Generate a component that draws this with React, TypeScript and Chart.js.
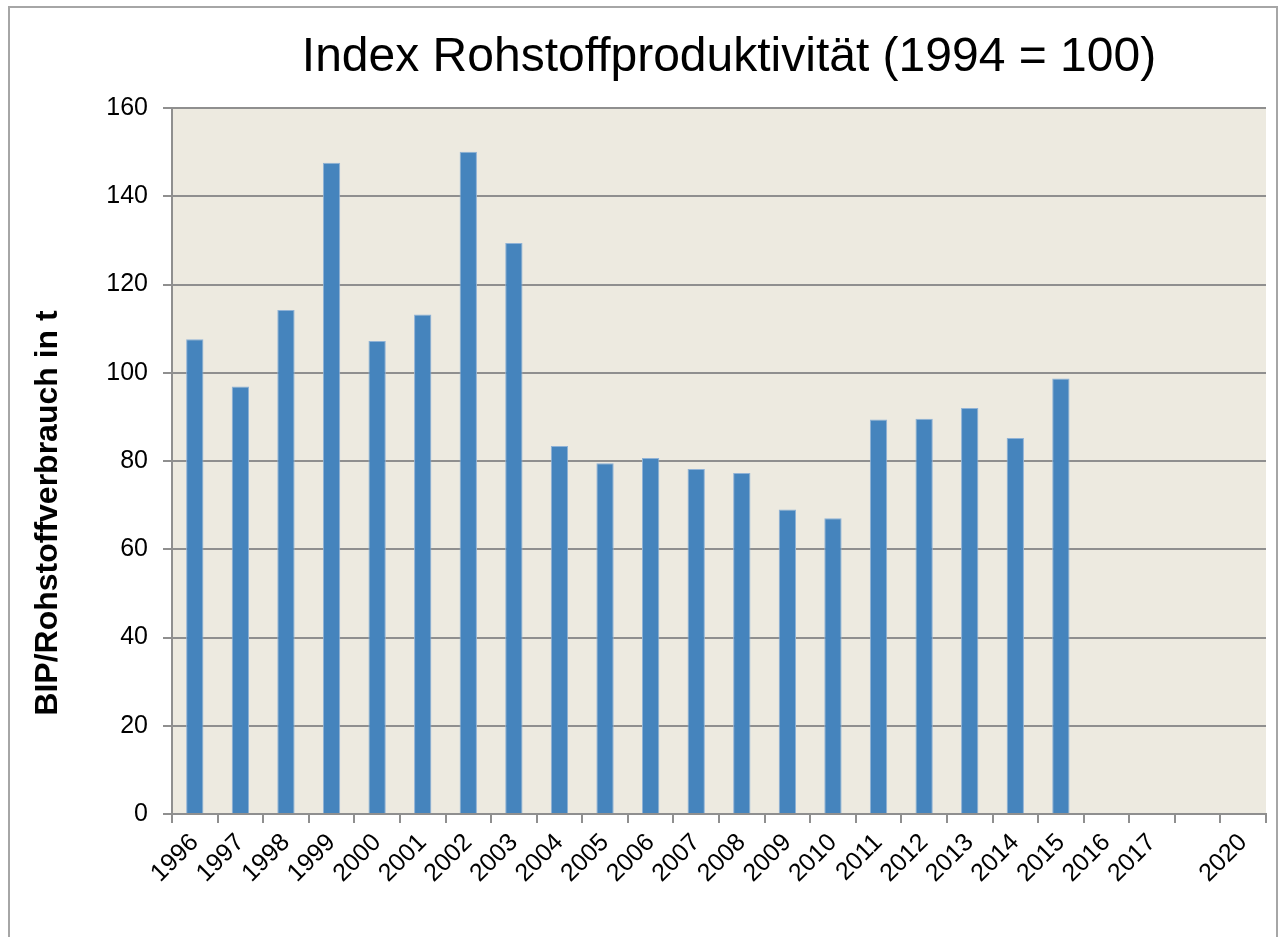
import React, { useEffect, useRef } from "react";
import { Chart, registerables } from "chart.js";

Chart.register(...registerables);

const categories = [
  "1996", "1997", "1998", "1999", "2000", "2001", "2002", "2003", "2004", "2005",
  "2006", "2007", "2008", "2009", "2010", "2011", "2012", "2013", "2014", "2015",
  "2016", "2017", "", "2020",
];
const productivity = [
  107.6, 96.9, 114.2, 147.6, 107.2, 113.2, 150.1, 129.4, 83.4, 79.5,
  80.7, 78.2, 77.3, 69.0, 67.0, 89.4, 89.6, 92.0, 85.2, 98.7,
  null, null, null, null,
];
const yTicks = [0, 20, 40, 60, 80, 100, 120, 140, 160];
const chartTitle = "Index Rohstoffproduktivität (1994 = 100)";
const yAxisTitle = "BIP/Rohstoffverbrauch in t";

const FONT = "'Liberation Sans', Arial, sans-serif";
const GRID = "#8f8f8f";

const decorPlugin = {
  id: "decor",
  beforeDraw(chart: any) {
    const { ctx, chartArea } = chart;
    ctx.save();
    ctx.fillStyle = "#edeae0";
    ctx.fillRect(chartArea.left, chartArea.top, chartArea.right - chartArea.left, chartArea.bottom - chartArea.top);
    ctx.restore();
  },
  afterDraw(chart: any) {
    const { ctx } = chart;
    ctx.save();
    ctx.fillStyle = "#000";
    ctx.font = `48px ${FONT}`;
    ctx.textAlign = "center";
    ctx.textBaseline = "alphabetic";
    ctx.fillText(chartTitle, 719, 63);
    ctx.translate(47, 505);
    ctx.rotate(-Math.PI / 2);
    ctx.font = `bold 32px ${FONT}`;
    ctx.fillText(yAxisTitle, 0, 0);
    ctx.restore();
  },
};

export default function App() {
  const ref = useRef<HTMLCanvasElement | null>(null);
  useEffect(() => {
    if (!ref.current) return;
    const chart = new Chart(ref.current, {
      type: "bar",
      data: {
        labels: categories,
        datasets: [
          {
            data: productivity as any,
            backgroundColor: "#4584bd",
            borderColor: "#8fb2d6",
            borderWidth: 1,
            barPercentage: 0.38,
            categoryPercentage: 1,
          },
        ],
      },
      options: {
        animation: false,
        responsive: false,
        devicePixelRatio: 1,
        layout: { padding: { left: 0, right: 10, top: 100, bottom: 0 } },
        plugins: {
          legend: { display: false },
          title: { display: false },
          tooltip: { enabled: false },
        },
        scales: {
          x: {
            offset: true,
            afterFit: (s: any) => { s.height = 126; },
            grid: {
              offset: true,
              drawOnChartArea: false,
              drawTicks: true,
              tickLength: 9,
              color: GRID,
              lineWidth: 2,
            },
            border: { display: true, color: GRID, width: 2 },
            ticks: {
              autoSkip: false,
              maxRotation: 45,
              minRotation: 45,
              padding: 5,
              color: "#000",
              font: { family: FONT, size: 25 },
            },
          },
          y: {
            min: 0,
            max: 160,
            afterFit: (s: any) => { s.width = 162; },
            afterBuildTicks: (s: any) => { s.ticks = yTicks.map((v) => ({ value: v })); },
            grid: {
              drawTicks: true,
              tickLength: 9,
              color: GRID,
              lineWidth: 2,
            },
            border: { display: true, color: GRID, width: 2 },
            ticks: {
              padding: 15,
              color: "#000",
              font: { family: FONT, size: 25 },
            },
          },
        },
      },
      plugins: [decorPlugin],
    });
    return () => chart.destroy();
  }, []);
  return (
    <div
      style={{
        position: "fixed",
        left: 8,
        top: 6,
        width: 1270,
        height: 940,
        border: "2px solid #a6a6a6",
        boxSizing: "border-box",
        overflow: "hidden",
        background: "#fff",
      }}
    >
      <canvas ref={ref} width={1266} height={932} style={{ display: "block", width: 1266, height: 932 }} />
    </div>
  );
}
